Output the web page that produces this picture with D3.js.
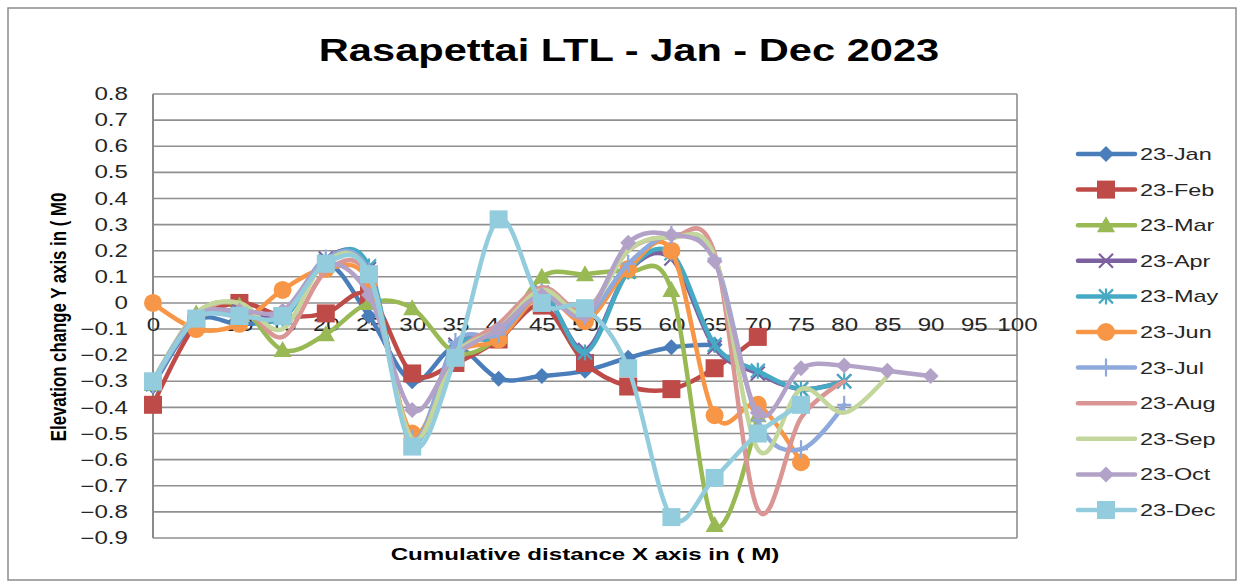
<!DOCTYPE html>
<html><head><meta charset="utf-8">
<script src="https://cdn.jsdelivr.net/npm/d3@7"></script>
<style>html,body{margin:0;padding:0;background:#fff;}svg{display:block;}</style>
</head><body>
<svg id="c" width="1242" height="587"></svg>
<script>
const distances = [0,5,10,15,20,25,30,35,40,45,50,55,60,65,70,75,80,85,90];
const xTicks = [0,5,10,15,20,25,30,35,40,45,50,55,60,65,70,75,80,85,90,95,100];
const yTicks = [0.8,0.7,0.6,0.5,0.4,0.3,0.2,0.1,0,-0.1,-0.2,-0.3,-0.4,-0.5,-0.6,-0.7,-0.8,-0.9];
const seriesNames = ["23-Jan","23-Feb","23-Mar","23-Apr","23-May","23-Jun","23-Jul","23-Aug","23-Sep","23-Oct","23-Dec"];
const jan = [-0.32,-0.07,-0.08,-0.05,0.15,-0.05,-0.30,-0.17,-0.29,-0.28,-0.26,-0.21,-0.17,-0.16];
const feb = [-0.39,-0.08,0.00,-0.05,-0.04,0.03,-0.27,-0.23,-0.14,-0.01,-0.23,-0.32,-0.33,-0.25,-0.13];
const mar = [-0.31,-0.04,-0.01,-0.18,-0.12,0.00,-0.02,-0.19,-0.13,0.10,0.11,0.12,0.05,-0.85,-0.43];
const apr = [-0.31,-0.06,-0.03,-0.05,0.17,0.13,-0.52,-0.16,-0.13,0.03,-0.18,0.12,0.17,-0.17,-0.27,-0.33,-0.30];
const may = [-0.31,-0.06,-0.04,-0.06,0.16,0.14,-0.53,-0.17,-0.13,0.04,-0.19,0.12,0.19,-0.16,-0.26,-0.33,-0.30];
const jun = [0.00,-0.10,-0.08,0.05,0.13,0.08,-0.50,-0.20,-0.14,0.03,-0.07,0.13,0.20,-0.43,-0.39,-0.61];
const jul = [-0.31,-0.06,-0.05,-0.05,0.17,0.12,-0.52,-0.15,-0.12,0.04,-0.05,0.15,0.26,0.17,-0.45,-0.56,-0.39];
const aug = [-0.30,-0.05,0.00,-0.13,0.12,0.10,-0.52,-0.20,-0.08,0.06,-0.03,0.20,0.25,0.19,-0.79,-0.44,-0.30];
const sep = [-0.30,-0.04,0.00,-0.10,0.16,0.11,-0.52,-0.20,-0.10,0.05,-0.04,0.20,0.25,0.18,-0.56,-0.33,-0.42,-0.28];
const oct = [-0.30,-0.05,-0.03,-0.03,0.15,0.03,-0.41,-0.20,-0.10,0.03,-0.05,0.23,0.26,0.16,-0.42,-0.25,-0.24,-0.26,-0.28];
const dec = [-0.30,-0.06,-0.05,-0.05,0.15,0.11,-0.55,-0.21,0.32,0.00,-0.02,-0.25,-0.82,-0.67,-0.50,-0.39];

const seriesValues = [jan,feb,mar,apr,may,jun,jul,aug,sep,oct,dec];
const colors = ["#4A7EBB","#BE4B48","#98B954","#7D60A0","#46AAC5","#F79646","#8EA9DB","#D99694","#C3D69B","#B3A2C7","#93CDDD"];
const markers = ["diamond","square","triangle","x","star","circle","plus","none","none","diamond","square"];

const svg = d3.select("#c");
const font = "'Liberation Sans', Arial, sans-serif";
const K = 1.38; // horizontal stretch of the reference text

// outer border
svg.append("rect").attr("x",8).attr("y",8).attr("width",1228).attr("height",572)
  .attr("fill","none").attr("stroke","#8c8c8c").attr("stroke-width",1.5);

const x = d3.scaleLinear().domain([0,100]).range([153,1017]);
const y = d3.scaleLinear().domain([-0.9,0.8]).range([538,94]);

// gridlines
svg.append("g").selectAll("line").data(yTicks).join("line")
  .attr("x1",x(0)).attr("x2",x(100)).attr("y1",d=>y(d)).attr("y2",d=>y(d))
  .attr("stroke","#8f8f8f").attr("stroke-width",1.6);
svg.append("line").attr("x1",x(100)).attr("x2",x(100)).attr("y1",y(0.8)).attr("y2",y(-0.9))
  .attr("stroke","#8f8f8f").attr("stroke-width",1.6);
svg.append("line").attr("x1",x(0)).attr("x2",x(0)).attr("y1",y(0.8)).attr("y2",y(-0.9))
  .attr("stroke","#8a8a8a").attr("stroke-width",2);

// y tick labels
const yAxis = d3.axisLeft(y).tickValues(yTicks).tickSize(0).tickPadding(25)
  .tickFormat(d=> d===0 ? "0" : d3.format(".1f")(d));
const gy = svg.append("g").attr("transform",`translate(${x(0)},0)`).call(yAxis);
gy.select(".domain").remove();
gy.selectAll("text").attr("font-family",font).attr("font-size",17.5).attr("fill","#262626")
  .attr("x",-25/K).attr("transform",`scale(${K},1)`);

// x tick labels (axis crossing at 0)
const xAxis = d3.axisBottom(x).tickValues(xTicks).tickSize(0).tickPadding(16).tickFormat(d3.format("d"));
const gx = svg.append("g").attr("transform",`translate(0,${y(0)})`).call(xAxis);
gx.select(".domain").remove();
gx.selectAll("text").attr("font-family",font).attr("font-size",17.5).attr("fill","#262626")
  .attr("transform",`scale(${K},1)`);

// titles
svg.append("text").attr("transform","translate(629,61) scale(1.3,1)").attr("text-anchor","middle")
  .attr("font-family",font).attr("font-weight","bold").attr("font-size",32).attr("fill","#000")
  .text("Rasapettai LTL - Jan - Dec 2023");
svg.append("text").attr("transform","translate(66,317) rotate(-90) scale(1,1.3)").attr("text-anchor","middle")
  .attr("font-family",font).attr("font-weight","bold").attr("font-size",16.8).attr("fill","#000")
  .text("Elevation change Y axis in ( M0");
svg.append("text").attr("transform","translate(585,560) scale(1.42,1)").attr("text-anchor","middle")
  .attr("font-family",font).attr("font-weight","bold").attr("font-size",17).attr("fill","#000")
  .text("Cumulative distance X axis in ( M)");

function drawMarker(g, type, cx, cy, color){
  if(type==="diamond"){
    g.append("path").attr("d",`M${cx},${cy-8}L${cx+8},${cy}L${cx},${cy+8}L${cx-8},${cy}Z`).attr("fill",color);
  } else if(type==="square"){
    g.append("rect").attr("x",cx-9).attr("y",cy-9).attr("width",18).attr("height",18).attr("fill",color);
  } else if(type==="triangle"){
    g.append("path").attr("d",`M${cx},${cy-9}L${cx+9},${cy+7}L${cx-9},${cy+7}Z`).attr("fill",color);
  } else if(type==="circle"){
    g.append("circle").attr("cx",cx).attr("cy",cy).attr("r",9).attr("fill",color);
  } else if(type==="x"){
    g.append("path").attr("d",`M${cx-7},${cy-7}L${cx+7},${cy+7}M${cx-7},${cy+7}L${cx+7},${cy-7}`).attr("stroke",color).attr("stroke-width",2.2);
  } else if(type==="star"){
    g.append("path").attr("d",`M${cx-7},${cy-7}L${cx+7},${cy+7}M${cx-7},${cy+7}L${cx+7},${cy-7}M${cx},${cy-8}L${cx},${cy+8}`).attr("stroke",color).attr("stroke-width",2.2);
  } else if(type==="plus"){
    g.append("path").attr("d",`M${cx},${cy-9}L${cx},${cy+9}M${cx-7},${cy}L${cx+7},${cy}`).attr("stroke",color).attr("stroke-width",2.2);
  }
}

const line = d3.line().x(d=>x(d[0])).y(d=>y(d[1])).curve(d3.curveCardinal.tension(0));
const plot = svg.append("g");
seriesValues.forEach((vals,i)=>{
  const pts = vals.map((v,j)=>[distances[j],v]);
  const g = plot.append("g");
  g.append("path").attr("d",line(pts)).attr("fill","none").attr("stroke",colors[i])
    .attr("stroke-width",4.5).attr("stroke-linejoin","round").attr("stroke-linecap","round");
  pts.forEach(p=>drawMarker(g, markers[i], x(p[0]), y(p[1]), colors[i]));
});

// legend
const leg = svg.append("g");
seriesNames.forEach((n,i)=>{
  const ly = 154 + i*35.6;
  const g = leg.append("g");
  g.append("line").attr("x1",1078).attr("x2",1135).attr("y1",ly).attr("y2",ly)
    .attr("stroke",colors[i]).attr("stroke-width",4.5).attr("stroke-linecap","round");
  drawMarker(g, markers[i], 1106, ly, colors[i]);
  g.append("text").attr("transform",`translate(1140,${ly+6}) scale(${K},1)`).attr("font-family",font).attr("font-size",17)
    .attr("fill","#262626").text(n);
});
</script>
</body></html>
